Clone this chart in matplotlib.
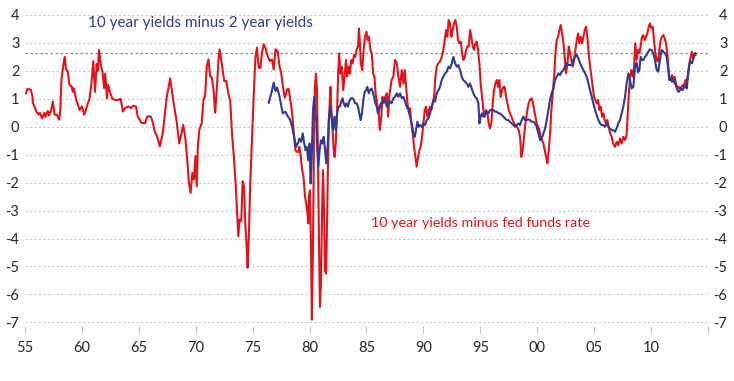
import matplotlib
matplotlib.use('Agg')
import matplotlib.pyplot as plt

# 10 year yields minus fed funds rate
red_year = [
    1955.1, 1955.2, 1955.5, 1955.65, 1955.7, 1956.0, 1956.2, 1956.3, 1956.5, 1956.7,
    1956.8, 1957.0, 1957.1, 1957.3, 1957.45, 1957.6, 1957.8, 1958.0, 1958.1, 1958.2,
    1958.4, 1958.5, 1958.6, 1958.75, 1958.9, 1959.1, 1959.2, 1959.3, 1959.5, 1959.7,
    1959.8, 1960.0, 1960.2, 1960.35, 1960.5, 1960.65, 1960.8, 1961.0, 1961.15, 1961.3,
    1961.4, 1961.5, 1961.7, 1961.8, 1961.95, 1962.05, 1962.2, 1962.3, 1962.5, 1962.65,
    1962.9, 1963.2, 1963.4, 1963.6, 1963.8, 1964.1, 1964.3, 1964.5, 1964.75, 1964.9,
    1965.25, 1965.55, 1965.75, 1966.05, 1966.2, 1966.4, 1966.6, 1966.85, 1967.1, 1967.3,
    1967.45, 1967.6, 1967.75, 1967.9, 1968.1, 1968.3, 1968.55, 1968.75, 1968.9, 1969.1,
    1969.25, 1969.4, 1969.55, 1969.7, 1969.85, 1969.97, 1970.09, 1970.18, 1970.32, 1970.53,
    1970.68, 1970.82, 1970.97, 1971.12, 1971.26, 1971.41, 1971.56, 1971.7, 1971.85, 1972.0,
    1972.09, 1972.3, 1972.5, 1972.68, 1972.88, 1973.03, 1973.18, 1973.32, 1973.5, 1973.62,
    1973.74, 1973.85, 1974.0, 1974.12, 1974.24, 1974.35, 1974.47, 1974.56, 1974.68, 1974.79,
    1974.94, 1975.09, 1975.24, 1975.38, 1975.53, 1975.68, 1975.82, 1975.97, 1976.12, 1976.32,
    1976.5, 1976.7, 1976.85, 1977.0, 1977.2, 1977.35, 1977.5, 1977.65, 1977.82, 1978.03,
    1978.17, 1978.3, 1978.4, 1978.52, 1978.64, 1978.76, 1978.88, 1979.0, 1979.1, 1979.23,
    1979.35, 1979.47, 1979.6, 1979.7, 1979.82, 1979.88, 1979.94, 1980.03, 1980.12, 1980.2,
    1980.3, 1980.38, 1980.47, 1980.56, 1980.65, 1980.74, 1980.83, 1980.91, 1981.0, 1981.1,
    1981.18, 1981.27, 1981.36, 1981.45, 1981.53, 1981.62, 1981.7, 1981.83, 1981.92, 1982.0,
    1982.12, 1982.2, 1982.3, 1982.42, 1982.5, 1982.6, 1982.7, 1982.83, 1982.95, 1983.07,
    1983.2, 1983.3, 1983.42, 1983.54, 1983.66, 1983.78, 1983.9, 1984.0, 1984.13, 1984.25,
    1984.34, 1984.42, 1984.5, 1984.63, 1984.75, 1984.87, 1985.0, 1985.1, 1985.22, 1985.34,
    1985.46, 1985.58, 1985.7, 1985.8, 1985.93, 1986.05, 1986.17, 1986.3, 1986.4, 1986.52,
    1986.64, 1986.8, 1986.9, 1987.0, 1987.2, 1987.36, 1987.5, 1987.66, 1987.8, 1987.95,
    1988.1, 1988.24, 1988.36, 1988.48, 1988.6, 1988.71, 1988.83, 1988.94, 1989.06, 1989.18,
    1989.3, 1989.41, 1989.53, 1989.65, 1989.76, 1989.88, 1990.0, 1990.12, 1990.23, 1990.35,
    1990.47, 1990.58, 1990.7, 1990.82, 1990.94, 1991.05, 1991.17, 1991.3, 1991.46, 1991.6,
    1991.75, 1991.87, 1991.99, 1992.1, 1992.22, 1992.34, 1992.46, 1992.57, 1992.69, 1992.81,
    1992.93, 1993.04, 1993.16, 1993.28, 1993.4, 1993.51, 1993.63, 1993.75, 1993.86, 1993.98,
    1994.1, 1994.21, 1994.33, 1994.45, 1994.57, 1994.68, 1994.8, 1994.92, 1995.03, 1995.15,
    1995.27, 1995.39, 1995.5, 1995.62, 1995.74, 1995.85, 1995.97, 1996.09, 1996.2, 1996.32,
    1996.44, 1996.56, 1996.67, 1996.79, 1996.91, 1997.03, 1997.14, 1997.26, 1997.38, 1997.5,
    1997.61, 1997.73, 1997.85, 1997.96, 1998.08, 1998.2, 1998.37, 1998.49, 1998.6, 1998.72,
    1998.84, 1998.96, 1999.13, 1999.25, 1999.37, 1999.49, 1999.6, 1999.72, 1999.84, 1999.95,
    2000.07, 2000.19, 2000.3, 2000.42, 2000.54, 2000.66, 2000.77, 2000.89, 2001.01, 2001.13,
    2001.24, 2001.36, 2001.48, 2001.6, 2001.71, 2001.83, 2001.95, 2002.06, 2002.18, 2002.3,
    2002.41, 2002.53, 2002.65, 2002.77, 2002.88, 2003.0, 2003.12, 2003.23, 2003.35, 2003.47,
    2003.59, 2003.7, 2003.82, 2003.94, 2004.05, 2004.17, 2004.29, 2004.4, 2004.52, 2004.64,
    2004.76, 2004.87, 2004.99, 2005.1, 2005.22, 2005.34, 2005.46, 2005.58, 2005.7, 2005.81,
    2005.93, 2006.04, 2006.16, 2006.28, 2006.4, 2006.54, 2006.68, 2006.83, 2006.98, 2007.12,
    2007.27, 2007.41, 2007.56, 2007.71, 2007.85, 2007.94, 2008.03, 2008.15, 2008.26, 2008.38,
    2008.5, 2008.61, 2008.73, 2008.85, 2008.97, 2009.08, 2009.2, 2009.32, 2009.44, 2009.55,
    2009.67, 2009.79, 2009.9, 2010.02, 2010.14, 2010.26, 2010.37, 2010.49, 2010.61, 2010.72,
    2010.84, 2010.96, 2011.08, 2011.19, 2011.31, 2011.43, 2011.51, 2011.6, 2011.72, 2011.84,
    2011.95, 2012.07, 2012.19, 2012.3, 2012.42, 2012.54, 2012.66, 2012.77, 2012.89, 2013.01,
    2013.13, 2013.24, 2013.36, 2013.48, 2013.59, 2013.71, 2013.83, 2013.91,
]
red_spread = [
    1.2, 1.35, 1.33, 1.1, 0.85, 0.55, 0.43, 0.5, 0.3, 0.5,
    0.35, 0.57, 0.4, 0.6, 0.9, 0.43, 0.43, 0.25, 0.6, 1.7,
    2.3, 2.5, 2.05, 2.0, 1.5, 1.45, 1.25, 1.38, 0.96, 0.73,
    0.6, 0.73, 0.43, 0.6, 0.82, 0.96, 1.4, 2.35, 1.25, 2.25,
    2.0, 2.75, 2.1, 2.0, 1.38, 1.9, 1.02, 1.5, 1.2, 1.02,
    0.96, 0.96, 1.0, 0.55, 0.67, 0.73, 0.67, 0.75, 0.73, 0.37,
    0.13, 0.13, 0.37, 0.37, 0.19, -0.17, -0.35, -0.7, -0.23, 0.49,
    1.08, 1.38, 1.73, 1.32, 0.73, 0.25, -0.6, -0.23, 0.07, -0.46,
    -1.18, -2.0, -2.37, -1.65, -1.89, -1.05, -2.13, -0.69, -0.1, 0.14,
    0.98, 1.1, 2.17, 2.41, 1.82, 1.76, 1.34, 0.5, 1.34, 2.41,
    2.77, 2.23, 1.64, 1.64, 1.16, 0.92, -0.22, -0.93, -2.0, -2.96,
    -3.92, -3.32, -3.38, -1.95, -2.13, -3.44, -4.28, -5.05, -3.68, -2.0,
    -0.45, 1.1, 2.47, 2.83, 2.11, 2.11, 2.65, 2.95, 2.83, 2.53,
    2.35, 2.41, 2.05, 2.77, 2.71, 2.17, 1.94, 1.46, 1.04, 1.34,
    1.35, 0.96, 0.72, 0.24, -0.36, -0.84, -0.9, -0.9, -0.72, -1.08,
    -1.55, -1.8, -2.5, -2.75, -3.1, -3.46, -2.5, -2.27, -4.18, -6.9,
    -4.2, -0.6, 1.43, 1.9, 1.31, -1.2, -4.2, -6.45, -5.6, -3.0,
    -1.55, -3.0, -5.14, -5.26, -3.58, -1.2, 0.24, 1.43, 0.6, 0.0,
    -0.84, -1.08, -0.6, 0.6, 1.79, 2.63, 1.9, 2.15, 1.31, 1.79,
    2.39, 1.79, 2.15, 1.9, 2.39, 2.27, 2.57, 2.5, 2.75, 2.87,
    3.52, 2.99, 2.27, 2.03, 2.75, 3.22, 3.4, 3.1, 3.22, 2.75,
    2.63, 1.9, 1.79, 1.2, 0.84, 0.6, -0.12, 0.36, 1.07, 0.84,
    1.07, 1.2, 0.36, 1.07, 1.67, 1.79, 2.39, 2.27, 1.79, 1.43,
    2.03, 1.55, 2.03, 1.43, 0.84, 0.6, 0.66, 0.12, -0.24, -0.72,
    -1.08, -1.43, -1.08, -0.84, -0.72, -0.36, 0.12, 0.6, 0.72, 0.36,
    0.6, 0.72, 0.6, 0.84, 1.07, 1.79, 2.15, 2.27, 2.33, 2.5,
    2.75, 3.1, 3.46, 3.22, 3.82, 3.7, 3.22, 3.46, 3.7, 3.82,
    3.58, 3.1, 2.99, 3.05, 2.63, 2.39, 2.5, 2.75, 2.87, 2.87,
    3.46, 3.22, 2.87, 2.75, 2.99, 3.05, 2.75, 2.27, 1.55, 1.07,
    0.6, 0.36, 0.6, 0.48, 0.12, -0.06, 0.12, 0.84, 1.31, 1.55,
    1.67, 1.43, 1.67, 1.07, 1.31, 1.43, 1.43, 1.07, 0.84, 0.6,
    0.48, 0.36, 0.24, 0.12, 0.06, 0.0, -0.12, -0.36, -1.08, -0.84,
    -0.36, 0.12, 0.6, 0.84, 0.96, 1.02, 0.9, 0.6, 0.36, 0.12,
    0.0, -0.12, -0.36, -0.48, -0.6, -0.84, -1.08, -1.31, -0.84, -0.24,
    0.6, 1.2, 1.79, 2.63, 3.1, 3.22, 3.46, 3.64, 3.34, 2.99,
    2.5, 1.91, 2.27, 2.87, 2.63, 2.39, 2.15, 2.39, 2.75, 3.1,
    3.34, 2.99, 3.22, 2.99, 3.22, 3.46, 3.58, 3.22, 2.63, 2.15,
    1.79, 1.43, 1.07, 0.96, 0.84, 0.96, 0.6, 0.72, 0.36, 0.48,
    0.24, 0.12, 0.24, 0.0, -0.24, -0.36, -0.6, -0.72, -0.54, -0.66,
    -0.42, -0.6, -0.36, -0.48, -0.3, 0.36, 1.07, 1.79, 2.03, 1.79,
    2.15, 2.99, 2.39, 2.75, 2.63, 2.87, 3.22, 3.28, 3.1, 3.22,
    3.34, 3.58, 3.7, 3.52, 3.58, 3.1, 2.63, 2.39, 2.33, 2.75,
    3.1, 3.22, 3.28, 3.17, 2.99, 2.63, 2.15, 1.79, 1.67, 1.85,
    1.67, 1.79, 1.55, 1.37, 1.43, 1.34, 1.43, 1.49, 1.43, 1.67,
    1.55, 1.91, 2.27, 2.5, 2.69, 2.45, 2.63, 2.57,
]

# 10 year yields minus 2 year yields
blue_year = [
    1976.41, 1976.65, 1976.85, 1977.0, 1977.15, 1977.35, 1977.64, 1977.88, 1978.08, 1978.3,
    1978.47, 1978.64, 1978.82, 1978.97, 1979.1, 1979.26, 1979.4, 1979.53, 1979.65, 1979.76,
    1979.88, 1980.0, 1980.09, 1980.18, 1980.3, 1980.41, 1980.5, 1980.6, 1980.68, 1980.77,
    1980.88, 1981.0, 1981.12, 1981.24, 1981.36, 1981.47, 1981.6, 1981.7, 1981.83, 1981.95,
    1982.06, 1982.18, 1982.3, 1982.42, 1982.54, 1982.66, 1982.77, 1982.9, 1983.0, 1983.13,
    1983.24, 1983.36, 1983.48, 1983.63, 1983.78, 1983.9, 1984.0, 1984.13, 1984.25, 1984.37,
    1984.48, 1984.6, 1984.72, 1984.84, 1984.96, 1985.07, 1985.2, 1985.3, 1985.43, 1985.55,
    1985.66, 1985.78, 1985.9, 1986.0, 1986.13, 1986.25, 1986.37, 1986.5, 1986.64, 1986.78,
    1986.93, 1987.07, 1987.2, 1987.36, 1987.5, 1987.66, 1987.8, 1987.95, 1988.1, 1988.24,
    1988.39, 1988.53, 1988.68, 1988.83, 1988.97, 1989.12, 1989.24, 1989.35, 1989.47, 1989.59,
    1989.7, 1989.85, 1990.0, 1990.14, 1990.29, 1990.44, 1990.58, 1990.73, 1990.88, 1991.02,
    1991.17, 1991.32, 1991.46, 1991.6, 1991.75, 1991.9, 1992.05, 1992.2, 1992.34, 1992.49,
    1992.63, 1992.78, 1992.93, 1993.07, 1993.22, 1993.37, 1993.51, 1993.66, 1993.8, 1993.95,
    1994.1, 1994.24, 1994.39, 1994.54, 1994.68, 1994.83, 1994.92, 1995.03, 1995.15, 1995.27,
    1995.42, 1995.56, 1995.71, 1995.85, 1996.0, 1996.15, 1996.29, 1996.44, 1996.59, 1996.73,
    1996.88, 1997.03, 1997.17, 1997.32, 1997.46, 1997.61, 1997.76, 1997.9, 1998.05, 1998.2,
    1998.34, 1998.49, 1998.63, 1998.78, 1998.93, 1999.07, 1999.22, 1999.37, 1999.51, 1999.66,
    1999.8, 1999.95, 2000.1, 2000.25, 2000.39, 2000.54, 2000.69, 2000.83, 2000.98, 2001.12,
    2001.27, 2001.42, 2001.56, 2001.71, 2001.86, 2002.0, 2002.15, 2002.3, 2002.44, 2002.59,
    2002.74, 2002.88, 2003.03, 2003.17, 2003.32, 2003.47, 2003.61, 2003.76, 2003.91, 2004.05,
    2004.2, 2004.35, 2004.49, 2004.64, 2004.79, 2004.93, 2005.08, 2005.22, 2005.37, 2005.52,
    2005.66, 2005.81, 2005.95, 2006.1, 2006.25, 2006.4, 2006.54, 2006.68, 2006.83, 2006.98,
    2007.12, 2007.27, 2007.41, 2007.56, 2007.71, 2007.85, 2008.0, 2008.15, 2008.29, 2008.44,
    2008.59, 2008.73, 2008.85, 2008.97, 2009.08, 2009.2, 2009.32, 2009.46, 2009.61, 2009.76,
    2009.9, 2010.05, 2010.2, 2010.34, 2010.49, 2010.63, 2010.78, 2010.93, 2011.08, 2011.22,
    2011.37, 2011.51, 2011.6, 2011.72, 2011.84, 2011.95, 2012.07, 2012.19, 2012.3, 2012.42,
    2012.54, 2012.66, 2012.77, 2012.89, 2013.01, 2013.13, 2013.24, 2013.36, 2013.48, 2013.59,
    2013.71, 2013.83, 2013.91,
]
blue_spread = [
    0.86, 1.22, 1.58, 1.28, 1.4, 1.1, 0.48, 0.54, 0.38, 0.24,
    0.0, -0.36, -0.72, -0.6, -0.42, -0.54, -0.24, -0.6, -0.84, -0.72,
    -1.2, -0.6, -2.03, -1.2, 0.6, 1.07, 0.6, 0.12, -0.84, -1.43,
    -0.84, -0.48, -0.6, -0.36, -0.84, -1.31, -0.6, 0.36, 0.72, 0.24,
    -0.12, 0.36, -0.12, 0.48, 0.72, 0.72, 0.9, 1.02, 0.84, 0.72,
    0.84, 0.72, 0.9, 1.02, 1.02, 0.96, 0.84, 0.84, 0.72, 0.48,
    0.24, 0.48, 0.96, 1.25, 1.31, 1.43, 1.2, 1.31, 1.37, 1.25,
    1.07, 0.84, 0.72, 0.48, 0.6, 0.84, 0.84, 0.96, 1.02, 0.72,
    0.84, 0.9, 0.84, 1.02, 1.07, 1.2, 1.07, 1.2, 1.02, 1.07,
    0.9, 0.72, 0.6, 0.36, 0.12, -0.24, -0.36, -0.12, 0.18, 0.0,
    0.06, 0.0, 0.12, 0.06, 0.24, 0.3, 0.48, 0.72, 0.96, 0.9,
    1.2, 1.31, 1.43, 1.67, 1.79, 1.91, 1.97, 2.15, 2.09, 2.27,
    2.5, 2.27, 2.15, 2.21, 2.03, 1.79, 1.67, 1.61, 1.55, 1.43,
    1.55, 1.37, 1.2, 1.07, 1.02, 0.84, 0.12, 0.36, 0.48, 0.36,
    0.48, 0.54, 0.48, 0.6, 0.6, 0.6, 0.54, 0.54, 0.48, 0.48,
    0.42, 0.36, 0.3, 0.24, 0.24, 0.18, 0.12, 0.06, 0.0, 0.06,
    0.12, 0.06, 0.24, 0.36, 0.24, 0.24, 0.26, 0.24, 0.18, 0.18,
    0.12, 0.0, -0.24, -0.48, -0.42, -0.24, -0.06, 0.24, 0.6, 0.96,
    1.2, 1.37, 1.67, 1.79, 1.91, 1.85, 1.97, 2.03, 2.15, 2.27,
    2.21, 2.21, 2.21, 2.39, 2.5, 2.57, 2.45, 2.27, 2.15, 2.03,
    1.91, 1.79, 1.55, 1.31, 1.07, 0.84, 0.6, 0.42, 0.24, 0.12,
    0.06, 0.06, 0.0, 0.12, 0.0, -0.06, -0.12, -0.12, -0.18, -0.05,
    0.12, 0.24, 0.48, 0.72, 1.07, 1.55, 1.91, 1.67, 1.37, 1.43,
    2.15, 2.3, 1.95, 2.03, 2.5, 2.39, 2.39, 2.5, 2.57, 2.69,
    2.77, 2.75, 2.63, 2.39, 2.03, 1.97, 2.39, 2.75, 2.69, 2.63,
    2.5, 2.03, 1.67, 1.73, 1.61, 1.73, 1.55, 1.49, 1.31, 1.25,
    1.31, 1.37, 1.31, 1.43, 1.49, 1.37, 1.79, 2.21, 2.33, 2.27,
    2.45, 2.57, 2.63,
]

current_level = 2.65
y_ticks = list(range(-7, 5))
x_ticks = list(range(1955, 2016, 5))
x_labels = ['55', '60', '65', '70', '75', '80', '85', '90', '95', '00', '05', '10', '']

plt.rcParams['font.family'] = ['Lato', 'DejaVu Sans']
plt.rcParams['axes.unicode_minus'] = False

text_color = '#262626'
red = '#E2141B'
blue = '#2F3A94'

fig = plt.figure(figsize=(7.34, 3.81), dpi=100)
ax = fig.add_axes([25 / 734, 0.1451, 683 / 734, 0.8192])
ax.set_xlim(1955, 2015)
ax.set_ylim(-7.12, 4.05)

for y in y_ticks:
    ax.axhline(y, color='#C8C8C8', lw=0.8, ls=(0, (2, 2)), zorder=0)
ax.axhline(current_level, color='#8C8C8C', lw=0.9, ls=(0, (2, 2)), zorder=0)

ax.plot(red_year, red_spread, color=red, lw=1.5, zorder=2)
ax.plot(blue_year, blue_spread, color=blue, lw=1.5, zorder=3)

ax.text(1960.5, 3.7, '10 year yields minus 2 year yields', color=blue,
        fontsize=11, va='center', ha='left')
ax.text(1985.4, -3.44, '10 year yields minus fed funds rate', color=red,
        fontsize=10.3, va='center', ha='left')

ax.set_xticks(x_ticks)
ax.set_xticklabels(x_labels)
ax.set_yticks(y_ticks)
ax.tick_params(axis='x', length=5, color='#BFBFBF', pad=6, labelsize=10.5,
               labelcolor=text_color)
ax.tick_params(axis='y', length=0, pad=4, labelsize=10.5, labelcolor=text_color)
for s in ax.spines.values():
    s.set_visible(False)

ax2 = ax.twinx()
ax2.set_ylim(ax.get_ylim())
ax2.set_yticks(y_ticks)
ax2.tick_params(axis='y', length=0, pad=14, labelsize=10.5, labelcolor=text_color)
for lab in ax2.get_yticklabels():
    lab.set_horizontalalignment('right')
for s in ax2.spines.values():
    s.set_visible(False)

fig.savefig('out.png', dpi=100)
